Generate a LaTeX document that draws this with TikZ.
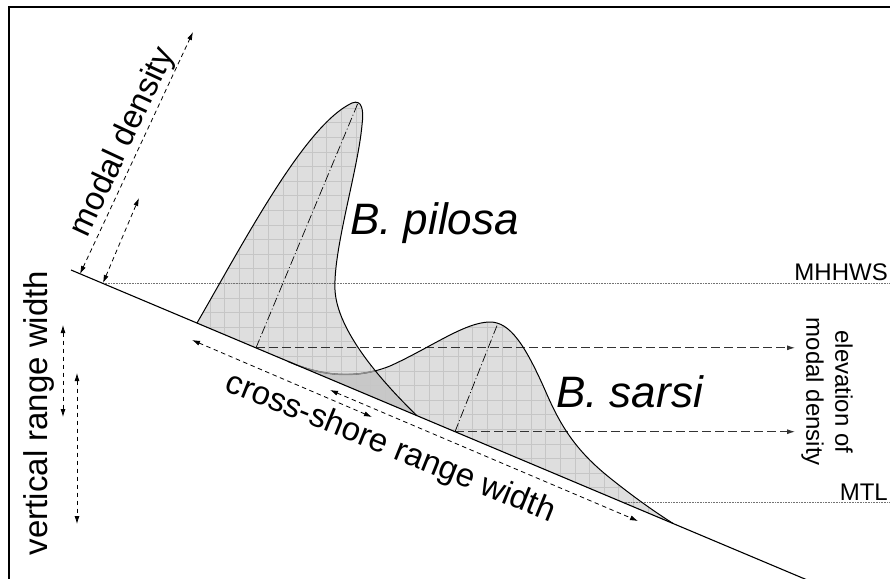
\documentclass[tikz,border=0pt]{standalone}
\usepackage{fontspec}
\setmainfont{Liberation Sans}
\usetikzlibrary{arrows.meta}
\definecolor{fillg}{RGB}{222,222,222}
\definecolor{gridg}{RGB}{198,198,198}
\definecolor{overg}{RGB}{200,200,200}
\begin{document}
\begin{tikzpicture}[x=1pt,y=-1pt,
  dimarrow/.style={line width=0.8pt, dash pattern=on 4.5pt off 3.5pt, arrows={Latex[length=8pt,width=5pt]-Latex[length=8pt,width=5pt]}},
  elevarrow/.style={line width=0.9pt, draw=black!80, dash pattern=on 9pt off 4pt, arrows={-Latex[length=8pt,width=5pt]}},
  levelline/.style={draw=black!55, line width=0.5pt, dash pattern=on 0.8pt off 0.8pt},
  modeline/.style={line width=0.7pt, dash pattern=on 9pt off 2.5pt on 1pt off 2.5pt},
  outline/.style={line width=1pt},
  biglabel/.style={font=\fontsize{44}{52}\selectfont\itshape, inner sep=0pt},
  axislabel/.style={font=\fontsize{33}{40}\selectfont, inner sep=0pt},
  smalllabel/.style={font=\fontsize{24}{29}\selectfont, inner sep=0pt}]
\clip (0,0) rectangle (890,578);
\fill[white] (0,0) rectangle (890,578);

% named points
\coordinate (s0) at (71,270);
\coordinate (s1) at (812,582);
\coordinate (mdA1) at (80,274);
\coordinate (mdA2) at (193,32);
\coordinate (mdB1) at (103,283);
\coordinate (mdB2) at (139,198);
\coordinate (vr1a) at (63,325);
\coordinate (vr1b) at (63,417);
\coordinate (vr2a) at (77,373);
\coordinate (vr2b) at (77,524);
\coordinate (cs1a) at (192,340);
\coordinate (cs1b) at (372,417);
\coordinate (cs2a) at (330,390);
\coordinate (cs2b) at (638,521);
\coordinate (pbase) at (256,347.8);
\coordinate (ppeak) at (358,103);
\coordinate (sbase) at (455,431.7);
\coordinate (speak) at (498,323);
\coordinate (pel) at (795,347.8);
\coordinate (sel) at (795,431.7);
\coordinate (mh0) at (103,283);
\coordinate (mh1) at (890,283);
\coordinate (mt0) at (623,502);
\coordinate (mt1) at (890,502);

% fills
\fill[fillg] (288,361.4) .. controls (325,378) and (360,378) .. (390,366)
  .. controls (430,348) and (465,322) .. (490,322)
  .. controls (510,322) and (525,345) .. (545,390)
  .. controls (560,425) and (575,450) .. (610,478)
  .. controls (635,498) and (655,512) .. (673,523.4) -- cycle;
\fill[fillg] (197,323) .. controls (245,240) and (305,125) .. (352,103)
  .. controls (362,99) and (364,110) .. (362,125)
  .. controls (358,170) and (333,250) .. (335,290)
  .. controls (337,330) and (380,380) .. (417,415.7) -- cycle;
% overlap
\begin{scope}
\clip (197,323) .. controls (245,240) and (305,125) .. (352,103)
  .. controls (362,99) and (364,110) .. (362,125)
  .. controls (358,170) and (333,250) .. (335,290)
  .. controls (337,330) and (380,380) .. (417,415.7) -- cycle;
\clip (288,361.4) .. controls (325,378) and (360,378) .. (390,366)
  .. controls (430,348) and (465,322) .. (490,322)
  .. controls (510,322) and (525,345) .. (545,390)
  .. controls (560,425) and (575,450) .. (610,478)
  .. controls (635,498) and (655,512) .. (673,523.4) -- cycle;
\fill[overg] (150,80) rectangle (700,560);
\end{scope}
% grids
\begin{scope}
\clip (197,323) .. controls (245,240) and (305,125) .. (352,103)
  .. controls (362,99) and (364,110) .. (362,125)
  .. controls (358,170) and (333,250) .. (335,290)
  .. controls (337,330) and (380,380) .. (417,415.7) -- cycle;
\foreach \i in {-6,...,12} \draw[gridg, line width=0.7pt] (268.3+\i*14.6,80) -- (268.3+\i*14.6,560);
\foreach \j in {-18,...,14} \draw[gridg, line width=0.7pt] (150,341.7+\j*14.6) -- (700,341.7+\j*14.6);
\end{scope}
\begin{scope}
\clip (288,361.4) .. controls (325,378) and (360,378) .. (390,366)
  .. controls (430,348) and (465,322) .. (490,322)
  .. controls (510,322) and (525,345) .. (545,390)
  .. controls (560,425) and (575,450) .. (610,478)
  .. controls (635,498) and (655,512) .. (673,523.4) -- cycle;
\foreach \i in {0,...,28} \draw[gridg, line width=0.7pt] (268.3+\i*14.6,80) -- (268.3+\i*14.6,560);
\foreach \j in {-4,...,14} \draw[gridg, line width=0.7pt] (150,341.7+\j*14.6) -- (700,341.7+\j*14.6);
\end{scope}

% level lines
\draw[levelline] (mh0) -- (mh1);
\draw[levelline] (mt0) -- (mt1);

% mode lines
\draw[modeline] (pbase) -- (ppeak);
\draw[modeline] (sbase) -- (speak);

% elevation arrows
\draw[elevarrow] (pbase) -- (pel);
\draw[elevarrow] (sbase) -- (sel);

% outlines
\draw[outline] (288,361.4) .. controls (325,378) and (360,378) .. (390,366)
  .. controls (430,348) and (465,322) .. (490,322)
  .. controls (510,322) and (525,345) .. (545,390)
  .. controls (560,425) and (575,450) .. (610,478)
  .. controls (635,498) and (655,512) .. (673,523.4);
\begin{scope}
\clip (197,323) .. controls (245,240) and (305,125) .. (352,103)
  .. controls (362,99) and (364,110) .. (362,125)
  .. controls (358,170) and (333,250) .. (335,290)
  .. controls (337,330) and (380,380) .. (417,415.7) -- cycle;
\draw[line width=1.4pt, draw=black!45] (288,361.4) .. controls (325,378) and (360,378) .. (390,366);
\end{scope}
\draw[outline] (197,323) .. controls (245,240) and (305,125) .. (352,103)
  .. controls (362,99) and (364,110) .. (362,125)
  .. controls (358,170) and (333,250) .. (335,290)
  .. controls (337,330) and (380,380) .. (417,415.7);

% shore slope
\draw[line width=1.1pt] (s0) -- (s1);

% dimension arrows
\draw[dimarrow] (mdA1) -- (mdA2);
\draw[dimarrow] (mdB1) -- (mdB2);
\draw[dimarrow] (vr1a) -- (vr1b);
\draw[dimarrow] (vr2a) -- (vr2b);
\draw[dimarrow] (cs1a) -- (cs1b);
\draw[dimarrow] (cs2a) -- (cs2b);

% labels
\node[biglabel, anchor=base west] (pil) at (350,234) {B. pilosa};
\node[biglabel, anchor=base west] (sar) at (556,407) {B. sarsi};
\node[smalllabel, anchor=base east] (mhhws) at (888,280) {MHHWS};
\node[smalllabel, anchor=base east] (mtl) at (888,500) {MTL};
\node[smalllabel, rotate=-90, align=center] (elev) at (827,392) {elevation of\\modal density};
\node[axislabel, rotate=90, anchor=base] (vrw) at (47,413) {vertical range width};
\node[axislabel, rotate=65, anchor=base] (md) at (131,146) {modal density};
\node[axislabel, rotate=-22, anchor=base] (csw) at (387,456) {cross-shore range width};

% frame
\draw[line width=2pt] (9,7) rectangle (900,600);
\end{tikzpicture}
\end{document}
